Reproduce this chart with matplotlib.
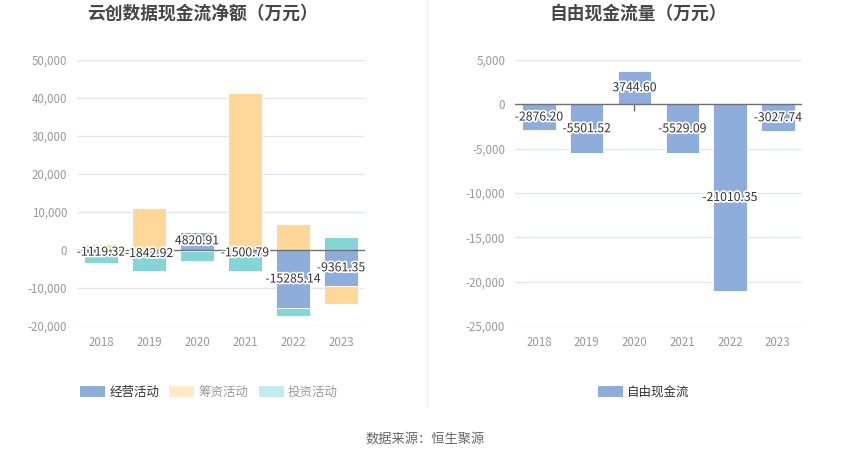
import matplotlib
matplotlib.use("Agg")
import matplotlib.pyplot as plt
import matplotlib.patheffects as pe
from matplotlib.patches import Patch
from matplotlib.lines import Line2D, TICKDOWN
import numpy as np

plt.rcParams['font.family'] = ['Noto Sans CJK SC', 'DejaVu Sans']

years = ['2018', '2019', '2020', '2021', '2022', '2023']
operating = [-1119.32, -1842.92, 4820.91, -1500.79, -15285.14, -9361.35]
financing = [1500, 11000, -200, 41200, 6900, -4850]
investing = [-2380, -3600, -2600, -3950, -2000, 3500]
fcf = [-2876.20, -5501.52, 3744.60, -5529.09, -21010.35, -3027.74]

left_title = '云创数据现金流净额（万元）'
right_title = '自由现金流量（万元）'
series_names = ['经营活动', '筹资活动', '投资活动']
fcf_name = '自由现金流'
source = '数据来源：恒生聚源'

c_blue = '#8EADDB'
c_orange = '#FFD899'
c_teal = '#86D5D6'
legend_colors = ['#8EADDB', '#FFEBCB', '#C2EBEB']
legend_text_colors = ['#333333', '#999999', '#999999']

W, H = 850, 458
fig = plt.figure(figsize=(W / 100, H / 100), dpi=100)

def fx(px):
    return px / W

def fy(px):
    return 1 - px / H

axL = fig.add_axes([fx(77), fy(326), fx(365 - 77), (326 - 60) / H])
axR = fig.add_axes([fx(515), fy(326), fx(801.7 - 515), (326 - 60) / H])

grid_c = '#E0E6F1'
tick_c = '#999999'
x = np.arange(len(years))
bw = 0.7

def style(ax, ylim, yticks):
    ax.set_xlim(-0.5, len(years) - 0.5)
    ax.set_ylim(*ylim)
    ax.set_yticks(yticks)
    ax.set_yticklabels([f'{v:,.0f}' for v in yticks])
    ax.set_xticks(x)
    ax.set_xticklabels(years)
    for s in ax.spines.values():
        s.set_visible(False)
    ax.tick_params(axis='both', length=0, colors=tick_c, labelsize=8.3)
    ax.tick_params(axis='y', pad=7)
    ax.tick_params(axis='x', pad=7)
    for t in yticks:
        if t != 0:
            ax.axhline(t, color=grid_c, lw=1, zorder=0)
    ax.axhline(0, color='#6E7079', lw=1, zorder=3)
    ax.plot(x, np.zeros(len(x)), ls='none', marker=TICKDOWN, ms=5,
            mew=1, color='#6E7079', zorder=1)

style(axL, (-20000, 50000), list(range(-20000, 50001, 10000)))
style(axR, (-25000, 5000), list(range(-25000, 5001, 5000)))

# stacked bars (positive and negative stacked separately)
pos = np.zeros(len(years))
neg = np.zeros(len(years))
label_pos = []
for vals, col in zip([operating, financing, investing], [c_blue, c_orange, c_teal]):
    vals = np.array(vals, dtype=float)
    bottoms = np.where(vals >= 0, pos, neg)
    axL.bar(x, vals, bw, bottom=bottoms, color=col, edgecolor='white',
            linewidth=0.6, zorder=2)
    if col == c_blue:
        label_pos = bottoms + vals / 2
    pos = np.where(vals >= 0, pos + vals, pos)
    neg = np.where(vals < 0, neg + vals, neg)

stroke = [pe.withStroke(linewidth=2.5, foreground='white')]
for xi, v, yp in zip(x, operating, label_pos):
    axL.text(xi, yp, f'{v:.2f}', ha='center', va='center', fontsize=8.8,
             color='#333333', path_effects=stroke, zorder=5)

axR.bar(x, fcf, bw, color=c_blue, edgecolor='white', linewidth=0.6, zorder=2)
for xi, v in zip(x, fcf):
    axR.text(xi, v / 2, f'{v:.2f}', ha='center', va='center', fontsize=8.8,
             color='#333333', path_effects=stroke, zorder=5)

# titles
fig.text(fx(202), fy(14), left_title, ha='center', va='center', fontsize=12.8,
         fontweight='bold', color='#464646')
fig.text(fx(638), fy(14), right_title, ha='center', va='center', fontsize=12.8,
         fontweight='bold', color='#464646')

# legends
handlesL = [Patch(facecolor=c, edgecolor='none') for c in legend_colors]
legL = fig.legend(handlesL, series_names, loc='center', bbox_to_anchor=(fx(209), fy(392)),
                  ncol=3, frameon=False, fontsize=9, handlelength=2.0, handleheight=1.0,
                  handletextpad=0.35, columnspacing=0.8)
for t, c in zip(legL.get_texts(), legend_text_colors):
    t.set_color(c)

legR = fig.legend([Patch(facecolor=c_blue, edgecolor='none')], [fcf_name], loc='center',
                  bbox_to_anchor=(fx(644), fy(392)), frameon=False, fontsize=9,
                  handlelength=2.0, handleheight=1.0, handletextpad=0.35)
for t in legR.get_texts():
    t.set_color('#333333')

# divider
fig.add_artist(Line2D([fx(427), fx(427)], [fy(0), fy(407)], color='#EEEEEE', lw=1))

fig.text(0.5, fy(439), source, ha='center', va='center', fontsize=9.5, color='#666666')

fig.savefig('out.png', dpi=100)
